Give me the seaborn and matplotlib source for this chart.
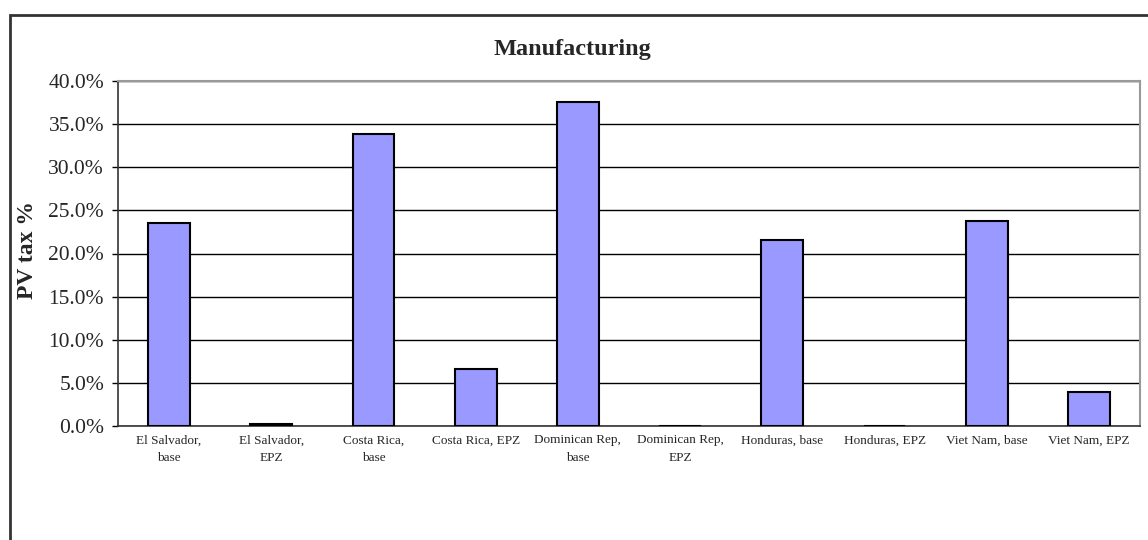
import matplotlib
matplotlib.use("Agg")
import matplotlib.pyplot as plt
import seaborn as sns
import pandas as pd
from matplotlib.patches import Rectangle
from matplotlib.ticker import FuncFormatter, MultipleLocator

categories = ["El Salvador,\nbase", "El Salvador,\nEPZ", "Costa Rica,\nbase", "Costa Rica, EPZ",
              "Dominican Rep,\nbase", "Dominican Rep,\nEPZ", "Honduras, base", "Honduras, EPZ",
              "Viet Nam, base", "Viet Nam, EPZ"]
values = [23.5, 0.25, 33.9, 6.6, 37.6, 0.0, 21.6, 0.0, 23.8, 3.9]

df = pd.DataFrame({"cat": categories, "val": values})

sns.set_style("white")
plt.rcParams['font.family'] = ['Liberation Serif', 'DejaVu Serif']

W, H = 1148, 540
fig = plt.figure(figsize=(W / 100, H / 100), dpi=100)
ax = fig.add_axes([118 / W, 1 - 426 / H, (1140 - 118) / W, (426 - 81) / H])

sns.barplot(data=df, x="cat", y="val", ax=ax, color="#9999FF", saturation=1,
            width=0.41, edgecolor="black", linewidth=1.5, zorder=3)

ax.set_ylim(0, 40)
ax.set_xlim(-0.5, len(categories) - 0.5)
ax.yaxis.set_major_locator(MultipleLocator(5))
ax.yaxis.set_major_formatter(FuncFormatter(lambda v, p: f"{v:.1f}%"))
ax.grid(axis="y", color="black", linewidth=1, zorder=0)
ax.set_axisbelow(True)
ax.tick_params(axis="y", direction="out", length=4, width=1, color="black", labelsize=15.5, pad=6, left=True)
ax.tick_params(axis="x", length=0, labelsize=9.5, pad=6)
for lbl in ax.get_xticklabels():
    lbl.set_linespacing(1.6)
ax.set_xlabel("")
ax.set_ylabel("PV tax %", fontsize=17, fontweight="bold")
ax.yaxis.set_label_coords(-0.078, 0.51)

for side in ["left", "bottom"]:
    ax.spines[side].set_color("#333333")
    ax.spines[side].set_linewidth(1.2)
for side in ["top", "right"]:
    ax.spines[side].set_visible(True)
    ax.spines[side].set_color("#999999")
    ax.spines[side].set_linewidth(1.5)

fig.text(572 / W, 1 - 50 / H, "Manufacturing", ha="center", va="center",
         fontsize=17.5, fontweight="bold")

fig.patches.append(Rectangle((10 / W, -0.1), 1.2, 1 - 15 / H + 0.1, transform=fig.transFigure,
                             fill=False, edgecolor="#333333", linewidth=2))

fig.savefig("out.png", dpi=100)
